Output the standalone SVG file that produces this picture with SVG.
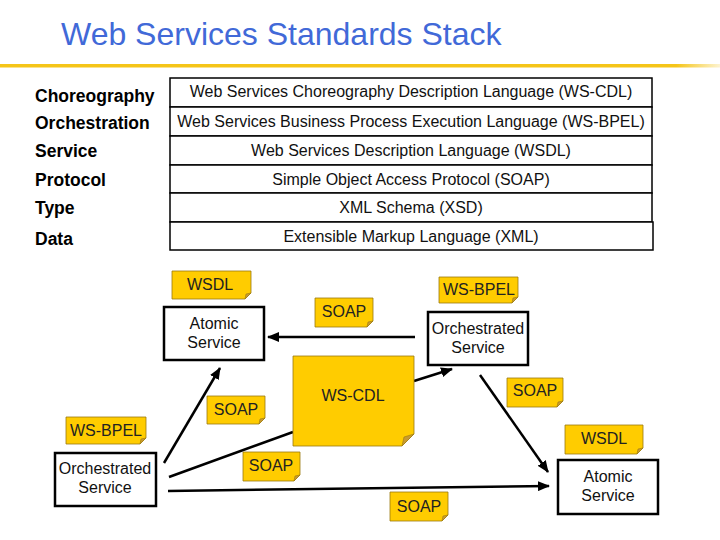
<svg xmlns="http://www.w3.org/2000/svg" width="720" height="540" viewBox="0 0 720 540">
<defs>
<style>
text{font-family:"Liberation Sans",Arial,sans-serif;}
.title{font-size:32px;fill:#4169D8;}
.lbl{font-size:17.5px;font-weight:bold;fill:#000;}
.row{fill:#fff;stroke:#000;stroke-width:1.5;}
.rt{font-size:16px;fill:#111;text-anchor:middle;}
.note{fill:#FFCC00;stroke:#9a7a10;stroke-width:0.8;}
.fold{fill:#c89a30;stroke:#9a7a10;stroke-width:0.6;}
.nt{font-size:16px;fill:#222;text-anchor:middle;}
.box{fill:#fff;stroke:#000;stroke-width:2.5;}
.bt{font-size:16px;fill:#111;text-anchor:middle;}
.con{stroke:#000;stroke-width:2.5;fill:none;}
.arr{marker-end:url(#ah);}
</style>
<linearGradient id="fade" x1="0" y1="0" x2="1" y2="0">
<stop offset="0" stop-color="#F5C518"/>
<stop offset="1" stop-color="#F5C518" stop-opacity="0.2"/>
</linearGradient>
<marker id="ah" markerUnits="userSpaceOnUse" markerWidth="12" markerHeight="10" refX="11" refY="5" orient="auto">
<path d="M0,0 L12,5 L0,10 Z" fill="#000"/>
</marker>
</defs>
<rect width="720" height="540" fill="#fff"/>
<g id="title">
<text class="title" x="61" y="45">Web Services Standards Stack</text>
<rect x="0" y="64" width="676" height="3.5" fill="#F5C518"/>
<rect x="676" y="64" width="44" height="3.5" fill="url(#fade)"/>
</g>
<g id="layer-labels">
<text class="lbl" x="35" y="102">Choreography</text>
<text class="lbl" x="35" y="129">Orchestration</text>
<text class="lbl" x="35" y="157">Service</text>
<text class="lbl" x="35" y="186">Protocol</text>
<text class="lbl" x="35" y="214">Type</text>
<text class="lbl" x="35" y="245">Data</text>
</g>
<g id="stack">
<g id="row-wscdl"><rect class="row" x="170" y="78" width="482" height="29"/><text class="rt" x="411" y="97">Web Services Choreography Description Language (WS-CDL)</text></g>
<g id="row-wsbpel"><rect class="row" x="170" y="107" width="482" height="29"/><text class="rt" x="411" y="127">Web Services Business Process Execution Language (WS-BPEL)</text></g>
<g id="row-wsdl"><rect class="row" x="170" y="136" width="482" height="29"/><text class="rt" x="411" y="156">Web Services Description Language (WSDL)</text></g>
<g id="row-soap"><rect class="row" x="170" y="165" width="482" height="28"/><text class="rt" x="411" y="185">Simple Object Access Protocol (SOAP)</text></g>
<g id="row-xsd"><rect class="row" x="170" y="193" width="482" height="29"/><text class="rt" x="411" y="213">XML Schema (XSD)</text></g>
<g id="row-xml"><rect class="row" x="170" y="222" width="483" height="28"/><text class="rt" x="411" y="242">Extensible Markup Language (XML)</text></g>
</g>
<g id="connectors">
<line class="con arr" x1="415" y1="337" x2="268" y2="337"/>
<line class="con arr" x1="414" y1="381" x2="452" y2="369"/>
<line class="con arr" x1="480" y1="375" x2="548" y2="472"/>
<line class="con arr" x1="164" y1="463" x2="220" y2="368"/>
<line class="con" x1="169" y1="477" x2="293" y2="432"/>
<line class="con arr" x1="168" y1="491" x2="549" y2="486"/>
</g>
<g id="atomic-service-top">
<rect class="box" x="164" y="307" width="100" height="53"/>
<text class="bt" x="214" y="329">Atomic</text>
<text class="bt" x="214" y="348">Service</text>
</g>
<g id="orchestrated-service-top">
<rect class="box" x="428" y="312" width="100" height="53"/>
<text class="bt" x="478" y="334">Orchestrated</text>
<text class="bt" x="478" y="353">Service</text>
</g>
<g id="orchestrated-service-left">
<rect class="box" x="55" y="453" width="101" height="53"/>
<text class="bt" x="105" y="474">Orchestrated</text>
<text class="bt" x="105" y="493">Service</text>
</g>
<g id="atomic-service-right">
<rect class="box" x="558" y="460" width="100" height="54"/>
<text class="bt" x="608" y="482">Atomic</text>
<text class="bt" x="608" y="501">Service</text>
</g>
<g id="note-wsdl-top">
<path class="note" d="M172,271 H251 V293 L245,299 H172 Z"/><path class="fold" d="M245,299 L251,293 L246,294 Z"/>
<text class="nt" x="210" y="290">WSDL</text>
</g>
<g id="note-soap-top">
<path class="note" d="M315,298 H373 V321 L367,327 H315 Z"/><path class="fold" d="M367,327 L373,321 L368,322 Z"/>
<text class="nt" x="344" y="317">SOAP</text>
</g>
<g id="note-wsbpel-top">
<path class="note" d="M439,277 H518 V297 L512,303 H439 Z"/><path class="fold" d="M512,303 L518,297 L513,298 Z"/>
<text class="nt" x="479" y="295">WS-BPEL</text>
</g>
<g id="note-wscdl">
<path class="note" d="M293,356 H414 V434 L402,446 H293 Z"/><path class="fold" d="M402,446 L414,434 L404,437 Z"/>
<text class="nt" x="353" y="401">WS-CDL</text>
</g>
<g id="note-soap-right">
<path class="note" d="M507,378 H563 V401 L557,407 H507 Z"/><path class="fold" d="M557,407 L563,401 L558,402 Z"/>
<text class="nt" x="535" y="396">SOAP</text>
</g>
<g id="note-wsdl-right">
<path class="note" d="M565,425 H643 V448 L637,454 H565 Z"/><path class="fold" d="M637,454 L643,448 L638,449 Z"/>
<text class="nt" x="604" y="444">WSDL</text>
</g>
<g id="note-wsbpel-left">
<path class="note" d="M66,417 H146 V438 L140,444 H66 Z"/><path class="fold" d="M140,444 L146,438 L141,439 Z"/>
<text class="nt" x="106" y="436">WS-BPEL</text>
</g>
<g id="note-soap-midleft">
<path class="note" d="M207,396 H265 V418 L259,424 H207 Z"/><path class="fold" d="M259,424 L265,418 L260,419 Z"/>
<text class="nt" x="236" y="415">SOAP</text>
</g>
<g id="note-soap-lower">
<path class="note" d="M243,452 H300 V475 L294,481 H243 Z"/><path class="fold" d="M294,481 L300,475 L295,476 Z"/>
<text class="nt" x="271" y="471">SOAP</text>
</g>
<g id="note-soap-bottom">
<path class="note" d="M390,492 H448 V515 L442,521 H390 Z"/><path class="fold" d="M442,521 L448,515 L443,516 Z"/>
<text class="nt" x="419" y="512">SOAP</text>
</g>
</svg>
